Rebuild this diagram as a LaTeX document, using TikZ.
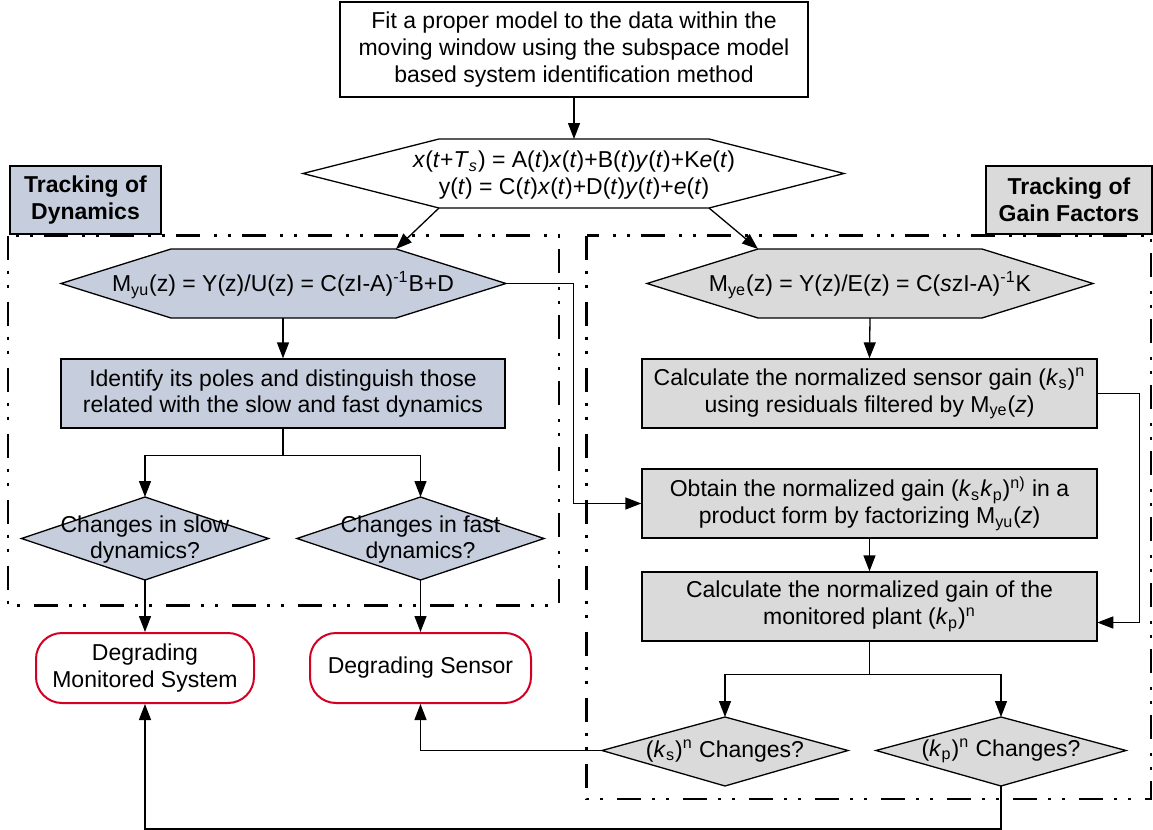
\documentclass[tikz,border=0pt]{standalone}
\usepackage{fontspec}
\setmainfont{Liberation Sans}
\usetikzlibrary{arrows.meta}
\definecolor{dynfill}{RGB}{198,205,220}
\definecolor{gainfill}{RGB}{218,218,218}
\definecolor{alarm}{RGB}{212,0,36}
\newcommand\itl[1]{\textit{#1}}
\begin{document}
\begin{tikzpicture}[x=0.5pt,y=-0.5pt,
  txt/.style={font=\fontsize{11.5}{13.4}\selectfont, align=center, inner sep=0pt},
  box/.style={txt, draw, line width=0.65pt, minimum height=34.5pt},
  hexline/.style={draw, line width=0.65pt},
  title/.style={txt, draw, line width=0.65pt, font=\fontsize{11.5}{13.4}\selectfont\bfseries, minimum height=34pt},
  result/.style={txt, draw=alarm, line width=1pt, rounded corners=13pt, minimum height=35pt},
  link/.style={line width=0.65pt, -{Triangle[length=8pt,width=6pt]}},
  wire/.style={line width=0.65pt},
  frame/.style={line width=1.2pt, dash pattern=on 12pt off 5.5pt on 1.5pt off 5.5pt on 1.5pt off 7pt},
]
\path[fill=white] (0,0) rectangle (1153,830);
\useasboundingbox (0,0) rectangle (1153,830);

% dash-dotted frames of the two tracking branches
\draw[frame] (8,235.5) rectangle (559,605.5);
\draw[frame] (586.5,235.5) rectangle (1151,799);

% branch titles
\node[title, fill=dynfill, minimum width=75.5pt] (tdyn) at (85.5,200) {Tracking of\\Dynamics};
\node[title, fill=gainfill, minimum width=83pt] (tgain) at (1069,200) {Tracking of\\Gain Factors};

% identification step
\node[box, fill=white, minimum width=234pt, minimum height=47.5pt] (fit) at (574,49.5)
  {Fit a proper model to the data within the\\moving window using the subspace model\\based system identification method};

% state-space model
\draw[hexline, fill=white] (303,173.5) -- (439,139) -- (709,139) -- (844,173.5) -- (709,208) -- (439,208) -- cycle;
\coordinate (ssN) at (574,139);
\coordinate (ssSW) at (439,208);
\coordinate (ssSE) at (709,208);
\node[txt] (ss) at (574,175)
  {\itl{x}(\itl{t}+\itl{T}\textsubscript{\itl{s}}) = A(\itl{t})\itl{x}(\itl{t})+B(\itl{t})\itl{y}(\itl{t})+K\itl{e}(\itl{t})\\
   y(\itl{t}) = C(\itl{t})\itl{x}(\itl{t})+D(\itl{t})\itl{y}(\itl{t})+\itl{e}(\itl{t})};

% transfer function from inputs
\draw[hexline, fill=dynfill] (61,283.5) -- (171,249) -- (396,249) -- (506,283.5) -- (396,318) -- (171,318) -- cycle;
\coordinate (myuNE) at (396,249);
\coordinate (myuE) at (506,283.5);
\coordinate (myuS) at (283,318);
\coordinate (myuTurn) at (573.5,283.5);
\node[txt] (myu) at (283,285)
  {M\textsubscript{yu}(z) = Y(z)/U(z) = C(zI-A)\textsuperscript{-1}B+D};

% transfer function from residuals
\draw[hexline, fill=gainfill] (647,283.5) -- (758,249) -- (982,249) -- (1093,283.5) -- (982,318) -- (758,318) -- cycle;
\coordinate (myeNW) at (758,249);
\coordinate (myeS) at (870,318);
\node[txt] (mye) at (870,285)
  {M\textsubscript{ye}(z) = Y(z)/E(z) = C(\itl{s}zI-A)\textsuperscript{-1}K};

% dynamics branch
\node[box, fill=dynfill, minimum width=222pt] (poles) at (283,393.5)
  {Identify its poles and distinguish those\\related with the slow and fast dynamics};

\draw[hexline, fill=dynfill] (21.5,538.5) -- (145,497) -- (268.5,538.5) -- (145,580) -- cycle;
\coordinate (slowN) at (145,497);
\coordinate (slowS) at (145,580);
\node[txt] (slow) at (145,539.5) {Changes in slow\\dynamics?};

\draw[hexline, fill=dynfill] (297,538.5) -- (420.5,497) -- (544,538.5) -- (420.5,580) -- cycle;
\coordinate (fastN) at (420.5,497);
\coordinate (fastS) at (420.5,580);
\node[txt] (fast) at (420.5,539.5) {Changes in fast\\dynamics?};

% conclusions
\node[result, minimum width=109pt] (dsys) at (145,668) {Degrading\\Monitored System};
\node[result, minimum width=110.5pt] (dsen) at (420.5,668) {Degrading Sensor};

% gain branch
\node[box, fill=gainfill, minimum width=227.5pt] (ksn) at (869.5,393.5)
  {Calculate the normalized sensor gain (\itl{k}\textsubscript{s})\textsuperscript{n}\\
   using residuals filtered by M\textsubscript{ye}(\itl{z})};
\node[box, fill=gainfill, minimum width=227.5pt] (kskp) at (869.5,503.5)
  {Obtain the normalized gain (\itl{k}\textsubscript{s}\itl{k}\textsubscript{p})\textsuperscript{n)} in a\\
   product form by factorizing M\textsubscript{yu}(\itl{z})};
\node[box, fill=gainfill, minimum width=227.5pt] (kpn) at (869.5,606.5)
  {Calculate the normalized gain of the\\monitored plant (\itl{k}\textsubscript{p})\textsuperscript{n}};
\coordinate (kpnIn) at (1097.25,622.5);

\draw[hexline, fill=gainfill] (602,750.5) -- (725,717) -- (848,750.5) -- (725,786) -- cycle;
\coordinate (ksqN) at (725,717);
\coordinate (ksqW) at (602,750.5);
\node[txt] (ksq) at (725,751) {(\itl{k}\textsubscript{s})\textsuperscript{n} Changes?};

\draw[hexline, fill=gainfill] (876,750.5) -- (1001,717) -- (1126,750.5) -- (1001,786) -- cycle;
\coordinate (kpqN) at (1001,717);
\coordinate (kpqS) at (1001,786);
\coordinate (loopCorner) at (1001,829);
\node[txt] (kpq) at (1001,751) {(\itl{k}\textsubscript{p})\textsuperscript{n} Changes?};

% connectors
\draw[link] (fit.south) -- (ssN);
\draw[link] (ssSW) -- (myuNE);
\draw[link] (ssSE) -- (myeNW);
\draw[link] (myuS) -- (poles.north);
\draw[link] (myeS) -- (ksn.north);
\draw[link] (poles.south) -- ++(0,27) -| (slowN);
\draw[link] (poles.south) -- ++(0,27) -| (fastN);
\draw[link] (slowS) -- (dsys.north);
\draw[link] (fastS) -- (dsen.north);
\draw[link] (myuE) -- (myuTurn) |- (kskp.west);
\draw[link] (ksn.east) -- ++(41.5,0) |- (kpnIn);
\draw[link] (kskp.south) -- (kpn.north);
\draw[link] (kpn.south) -- ++(0,33) -| (ksqN);
\draw[link] (kpn.south) -- ++(0,33) -| (kpqN);
\draw[link] (ksqW) -| (dsen.south);
\draw[link] (kpqS) -- (loopCorner) -| (dsys.south);
\end{tikzpicture}
\end{document}
